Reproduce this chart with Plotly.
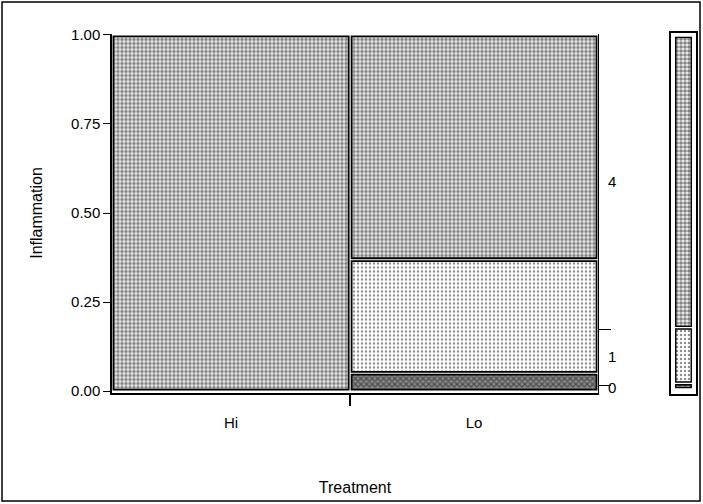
import plotly.graph_objects as go

# ---- data ----
treatments = ["Hi", "Lo"]
treat_share = [0.49, 0.51]          # column widths (share of observations)
levels = ["0", "1", "4"]            # Inflammation levels (bottom to top)
prop_hi = [0.0, 0.0, 1.0]
prop_lo = [0.05, 0.319, 0.631]
overall = [0.016, 0.158, 0.826]     # marginal distribution of Inflammation
y_ticks = [0.0, 0.25, 0.5, 0.75, 1.0]

W, H = 703, 504
FONT = "Liberation Sans, Arial, sans-serif"

patterns = {
    "0": dict(shape="x", size=4, solidity=0.55, fgcolor="#111", bgcolor="#8a8a8a", fillmode="overlay"),
    "1": dict(shape=".", size=4, solidity=0.3, fgcolor="#222", bgcolor="#ffffff", fillmode="overlay"),
    "4": dict(shape=".", size=4, solidity=0.65, fgcolor="#111", bgcolor="#f4f4f4", fillmode="overlay"),
}

gx = 0.003   # horizontal inset (axis units)
gy = 0.004   # vertical inset (axis units)

# column positions from shares
lefts = [0.0]
for s in treat_share[:-1]:
    lefts.append(lefts[-1] + s)
centers = [l + s / 2 for l, s in zip(lefts, treat_share)]
widths = [s - 2 * gx for s in treat_share]

col_props = [prop_hi, prop_lo]

fig = go.Figure()

for k, lev in enumerate(levels):
    xs, ys, bs, ws = [], [], [], []
    for c, props in enumerate(col_props):
        if props[k] <= 0:
            continue
        start = sum(props[:k])
        xs.append(centers[c])
        bs.append(start + gy)
        ys.append(props[k] - 2 * gy)
        ws.append(widths[c])
    fig.add_trace(go.Bar(
        x=xs, y=ys, base=bs, width=ws,
        marker=dict(color="white", line=dict(color="black", width=1.8), pattern=patterns[lev]),
        xaxis="x", yaxis="y", showlegend=False, hoverinfo="skip",
    ))

# invisible trace for right axis
fig.add_trace(go.Scatter(x=[0.5], y=[0.5], mode="markers", marker=dict(opacity=0),
                         xaxis="x", yaxis="y2", showlegend=False, hoverinfo="skip"))

# marginal bar
for k, lev in enumerate(levels):
    start = sum(overall[:k])
    fig.add_trace(go.Bar(
        x=[0.5], y=[overall[k] - 2 * gy], base=[start + gy], width=[0.62],
        marker=dict(color="white", line=dict(color="black", width=1.4), pattern=patterns[lev]),
        xaxis="x3", yaxis="y3", showlegend=False, hoverinfo="skip",
    ))

# right axis: labels at centers of overall segments, ticks at boundaries
cum = [0.0]
for p in overall:
    cum.append(cum[-1] + p)
right_label_pos = [(cum[i] + cum[i + 1]) / 2 for i in range(len(levels))]
right_tick_pos = cum[1:-1]
boundaries = [lefts[i + 1] for i in range(len(lefts) - 1)]

main_x_dom = [112 / W, 598 / W]
main_y_dom = [(H - 392.5) / H, (H - 33.5) / H]

fig.update_layout(
    width=W, height=H,
    margin=dict(l=0, r=0, t=0, b=0, autoexpand=False),
    paper_bgcolor="white", plot_bgcolor="white",
    barmode="overlay",
    font=dict(family=FONT, size=15, color="black"),
    xaxis=dict(
        domain=main_x_dom, range=[0, 1], showgrid=False, zeroline=False,
        showline=True, linecolor="black", linewidth=1.5,
        tickmode="array", tickvals=centers, ticktext=treatments, ticks="",
        ticklabelstandoff=16, tickfont=dict(size=15),
        minor=dict(tickmode="array", tickvals=boundaries, ticks="outside", ticklen=12,
                   tickcolor="black", tickwidth=1.5, showgrid=False),
        title=dict(text="Treatment", standoff=52, font=dict(size=16)),
        fixedrange=True,
    ),
    yaxis=dict(
        domain=main_y_dom, range=[-0.004, 1.004], showgrid=False, zeroline=False,
        showline=True, linecolor="black", linewidth=1.5,
        tickmode="array", tickvals=y_ticks, tickformat=".2f", ticks="outside",
        ticklen=7, tickwidth=1.2, tickcolor="black", tickfont=dict(size=15),
        title=dict(text="Inflammation", standoff=24, font=dict(size=16)),
        fixedrange=True,
    ),
    yaxis2=dict(
        overlaying="y", side="right", anchor="x", range=[-0.004, 1.004],
        showgrid=False, zeroline=False, showline=True, linecolor="black", linewidth=1.2,
        tickmode="array", tickvals=right_label_pos, ticktext=levels, ticks="",
        ticklabelstandoff=6, tickfont=dict(size=15),
        minor=dict(tickmode="array", tickvals=right_tick_pos, ticks="outside", ticklen=12,
                   tickcolor="black", tickwidth=1.2, showgrid=False),
        fixedrange=True,
    ),
    xaxis3=dict(
        domain=[671 / W, 696 / W], anchor="y3", range=[0, 1],
        showgrid=False, zeroline=False, showticklabels=False, ticks="",
        showline=True, mirror=True, linecolor="black", linewidth=1.5, fixedrange=True,
    ),
    yaxis3=dict(
        domain=[(H - 394) / H, (H - 33) / H], anchor="x3", range=[-0.014, 1.0085],
        showgrid=False, zeroline=False, showticklabels=False, ticks="",
        showline=True, mirror=True, linecolor="black", linewidth=1.5, fixedrange=True,
    ),
    shapes=[dict(type="rect", xref="paper", yref="paper",
                 x0=2 / W, x1=700 / W, y0=(H - 501) / H, y1=(H - 2) / H,
                 line=dict(color="black", width=1.5), fillcolor="rgba(0,0,0,0)", layer="below")],
)

fig.write_html("out.html", config={"displayModeBar": False},
               post_script="document.body.style.margin='0';document.body.style.padding='0';document.body.style.overflow='hidden';")
